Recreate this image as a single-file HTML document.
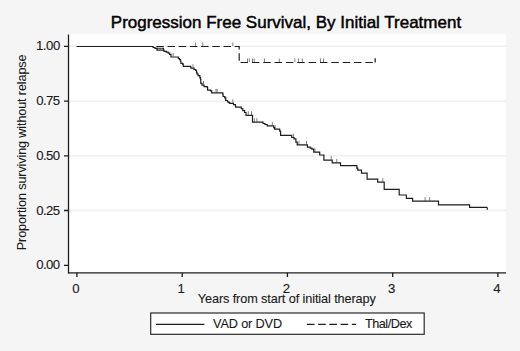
<!DOCTYPE html>
<html><head><meta charset="utf-8"><style>
html,body{margin:0;padding:0;background:#f5f5f5;overflow:hidden;width:520px;height:351px;}
svg{display:block;font-family:"Liberation Sans",sans-serif;}
</style></head><body>
<svg width="520" height="351" viewBox="0 0 520 351">
<rect x="0" y="0" width="520" height="351" fill="#f5f5f5"/>
<rect x="68.5" y="34" width="437.5" height="239" fill="#ffffff"/>
<g stroke="#f0f0f0" stroke-width="1.6">
<line x1="69" y1="46.3" x2="506" y2="46.3"/>
<line x1="69" y1="101.4" x2="506" y2="101.4"/>
<line x1="69" y1="155.7" x2="506" y2="155.7"/>
<line x1="69" y1="210.4" x2="506" y2="210.4"/>
</g>
<g stroke="#1e1e1e" stroke-width="1.3" fill="none">
<line x1="68.5" y1="34.5" x2="68.5" y2="273.5"/>
<line x1="68" y1="272.8" x2="506" y2="272.8"/>
<path d="M64 46.3H68.5M64 101.2H68.5M64 155.8H68.5M64 210.5H68.5M64 265.3H68.5"/>
<path d="M76.9 272.8V277M182.2 272.8V277M287.4 272.8V277M392.7 272.8V277M497.9 272.8V277"/>
</g>
<path d="M173.2 56.5 V53.0 M193.0 67.7 V64.2 M203.5 84.6 V81.1 M216.0 92.3 V88.8 M217.2 92.3 V88.8 M225.7 100.0 V96.5 M232.9 102.8 V99.3 M248.3 114.8 V111.3 M251.5 114.8 V111.3 M254.4 121.7 V118.2 M256.9 121.7 V118.2 M272.3 125.4 V121.9 M275.1 128.6 V125.1 M293.4 137.0 V133.5 M299.0 144.4 V140.9 M306.5 144.4 V140.9 M315.0 151.7 V148.2 M331.2 159.6 V156.1 M336.8 162.4 V158.9 M382.8 181.7 V178.2 M425.1 200.7 V197.2 M429.7 200.7 V197.2 M195.4 46.0 V42.5 M202.8 46.0 V42.5 M232.8 46.0 V42.5 M247.5 62.0 V58.5 M249.3 62.0 V58.5 M252.5 62.0 V58.5 M254.2 62.0 V58.5 M264.5 62.0 V58.5 M279.3 62.0 V58.5 M294.9 62.0 V58.5 M298.4 62.0 V58.5 M302.3 62.0 V58.5 M320.5 62.0 V58.5 M323.5 62.0 V58.5 " stroke="#555" stroke-width="0.75" fill="none"/>
<path d="M76.5 46.5H239.2V62.5" stroke="#1e1e1e" stroke-width="1.2" fill="none" stroke-dasharray="7.5 3.7" stroke-dashoffset="-1.4"/>
<path d="M239.2 62.5H375.2" stroke="#1e1e1e" stroke-width="1.2" fill="none" stroke-dasharray="7.5 3.85" stroke-dashoffset="-1.3"/>
<path d="M76.5 46.5 H153.1 V47.5 H155.0 V48.3 H157.0 V50.1 H164.0 V51.4 H166.3 V52.2 H168.2 V53.2 H169.6 V54.4 H171.0 V57.0 H178.3 V58.5 H179.4 V59.7 H180.5 V61.0 H180.9 V63.3 H182.7 V64.1 H183.3 V66.3 H190.8 V68.2 H194.0 V69.5 H195.5 V70.4 H196.5 V72.3 H196.9 V73.8 H198.0 V75.6 H199.8 V77.6 H200.5 V79.5 H200.8 V83.3 H202.0 V85.1 H204.1 V86.7 H207.3 V87.3 H207.6 V90.2 H210.7 V90.8 H211.7 V92.8 H222.8 V94.3 H223.1 V96.5 H224.7 V98.0 H225.7 V100.5 H227.5 V101.8 H228.8 V102.7 H229.7 V103.3 H233.5 V104.6 H235.4 V106.2 H235.7 V107.1 H241.3 V108.7 H242.8 V110.6 H244.6 V112.5 H246.0 V115.3 H252.5 V122.2 H263.0 V123.5 H265.0 V124.5 H267.2 V125.9 H273.7 V127.7 H274.6 V129.1 H279.7 V131.1 H280.6 V135.4 H291.7 V137.5 H294.0 V138.9 H295.9 V142.2 H297.2 V144.9 H307.4 V147.2 H310.2 V148.2 H311.8 V149.2 H313.7 V152.2 H319.7 V155.0 H323.9 V160.1 H332.2 V162.9 H340.5 V165.7 H356.9 V168.2 H357.8 V170.2 H361.5 V173.2 H367.1 V179.2 H377.7 V182.2 H384.2 V189.3 H399.2 V195.0 H406.4 V198.3 H412.6 V201.2 H438.5 V204.8 H469.6 V207.4 H487.3" stroke="#1e1e1e" stroke-width="1.2" fill="none"/>
<path d="M156.6 48.3H163.5V50.1" stroke="#1e1e1e" stroke-width="1.1" fill="none"/>
<path d="M487.3 207.4V209.8" stroke="#1e1e1e" stroke-width="1.2" fill="none"/>
<path d="M375.2 62.5V58.2" stroke="#1e1e1e" stroke-width="1.2" fill="none"/>
<rect x="150.7" y="313" width="273.5" height="21.3" fill="#fff" stroke="#2a2a2a" stroke-width="1.2"/>
<line x1="156" y1="324.3" x2="204.4" y2="324.3" stroke="#1e1e1e" stroke-width="1.25"/>
<line x1="306.9" y1="324.3" x2="356" y2="324.3" stroke="#1e1e1e" stroke-width="1.2" stroke-dasharray="7.6 3.63"/>
<text x="110.8" y="27.8" font-size="17" textLength="350.33" lengthAdjust="spacing" fill="#000" stroke="#000" stroke-width="0.45">Progression Free Survival, By Initial Treatment</text>
<text x="35.9" y="50.4" font-size="13.2" textLength="24.37" lengthAdjust="spacing" fill="#1a1a1a" stroke="#1a1a1a" stroke-width="0.12">1.00</text>
<text x="36.2" y="105.3" font-size="13.2" textLength="23.97" lengthAdjust="spacing" fill="#1a1a1a" stroke="#1a1a1a" stroke-width="0.12">0.75</text>
<text x="36.2" y="159.9" font-size="13.2" textLength="23.97" lengthAdjust="spacing" fill="#1a1a1a" stroke="#1a1a1a" stroke-width="0.12">0.50</text>
<text x="36.2" y="214.6" font-size="13.2" textLength="23.97" lengthAdjust="spacing" fill="#1a1a1a" stroke="#1a1a1a" stroke-width="0.12">0.25</text>
<text x="36.2" y="269.4" font-size="13.2" textLength="23.97" lengthAdjust="spacing" fill="#1a1a1a" stroke="#1a1a1a" stroke-width="0.12">0.00</text>
<text x="197.8" y="302.6" font-size="12.7" textLength="178.07" lengthAdjust="spacing" fill="#1a1a1a" stroke="#1a1a1a" stroke-width="0.12">Years from start of initial therapy</text>
<text x="213.0" y="328.0" font-size="12.7" textLength="69.07" lengthAdjust="spacing" fill="#1a1a1a" stroke="#1a1a1a" stroke-width="0.12">VAD or DVD</text>
<text x="365.0" y="328.0" font-size="12.7" textLength="47.28" lengthAdjust="spacing" fill="#1a1a1a" stroke="#1a1a1a" stroke-width="0.12">Thal/Dex</text>
<text transform="translate(26.3,250.2) rotate(-90)" font-size="12.7" textLength="195.8" lengthAdjust="spacing" fill="#1a1a1a" stroke="#1a1a1a" stroke-width="0.05">Proportion surviving without relapse</text>
<text x="75.9" y="292.7" font-size="13.2" text-anchor="middle" fill="#1a1a1a" stroke="#1a1a1a" stroke-width="0.12">0</text>
<text x="181.2" y="292.7" font-size="13.2" text-anchor="middle" fill="#1a1a1a" stroke="#1a1a1a" stroke-width="0.12">1</text>
<text x="286.4" y="292.7" font-size="13.2" text-anchor="middle" fill="#1a1a1a" stroke="#1a1a1a" stroke-width="0.12">2</text>
<text x="391.7" y="292.7" font-size="13.2" text-anchor="middle" fill="#1a1a1a" stroke="#1a1a1a" stroke-width="0.12">3</text>
<text x="496.9" y="292.7" font-size="13.2" text-anchor="middle" fill="#1a1a1a" stroke="#1a1a1a" stroke-width="0.12">4</text>
</svg>
</body></html>
